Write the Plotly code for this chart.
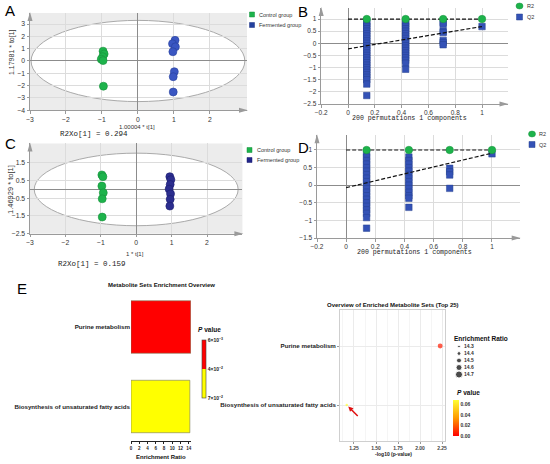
import plotly.graph_objects as go
import math

W, H = 550, 464

# ---------------- data ----------------
# A: OPLS-DA score plot, model 1
a_control_t = [-0.97, -0.94, -0.98, -1.02, -0.97, -0.96]
a_control_to = [0.80, 0.57, 0.35, 0.15, 0.03, -2.05]
a_ferm_t = [1.03, 0.96, 1.04, 0.97, 1.01, 0.98, 0.98]
a_ferm_to = [1.68, 1.40, 1.15, 0.75, -0.87, -1.28, -2.52]
a_ellipse = [2.97, 3.3]          # Hotelling T2 semi-axes (t, to)
a_x_title = "1.00004 * t[1]"
a_y_title = "1.17981 * to[1]"
a_r2xo = "R2Xo[1] = 0.294"

# C: OPLS-DA score plot, model 2
c_control_t = [-0.97, -0.94, -0.97, -0.93, -0.96, -0.96]
c_control_to = [0.82, 0.72, 0.19, -0.19, -0.53, -1.56]
c_ferm_t = [0.95, 0.98, 0.96, 0.93, 0.97, 0.96, 0.95]
c_ferm_to = [0.72, 0.55, 0.28, 0.02, -0.25, -0.56, -0.94]
c_ellipse = [2.88, 2.05]
c_x_title = "1 * t[1]"
c_y_title = "1.46929 * to[1]"
c_r2xo = "R2Xo[1] = 0.159"

# B / D: permutation tests (200 permutations)
perm_x = [0.14, 0.43, 0.71, 1.0]
r2_values = [1.0, 1.0, 1.0, 1.0]
line_x = [0.0, 1.0]
b_r2_line = [1.0, 1.0]
b_q2_line = [-0.23, 0.69]
b_q2_p1 = [0.88, 0.80, 0.70, 0.60, 0.50, 0.40, 0.30, 0.20, 0.10, 0.00, -0.10, -0.20,
           -0.30, -0.40, -0.50, -0.60, -0.70, -0.80, -0.90, -1.00, -1.10, -1.20,
           -1.30, -1.40, -1.50, -1.68, -2.15]
b_q2_p2 = [0.88, 0.80, 0.70, 0.60, 0.50, 0.40, 0.30, 0.20, 0.10, 0.00, -0.10, -0.20,
           -0.30, -0.40, -0.50, -0.60, -0.70, -0.82, -1.07]
b_q2_p3 = [0.86, 0.78, 0.50, 0.44, 0.12, 0.03, -0.06]
b_q2_p4 = [0.69]
d_r2_line = [1.0, 1.0]
d_q2_line = [-0.07, 0.91]
d_q2_p1 = [0.90, 0.80, 0.70, 0.60, 0.50, 0.40, 0.30, 0.20, 0.10, 0.00, -0.10, -0.20,
           -0.30, -0.40, -0.50, -0.60, -0.70, -0.80, -0.92, -1.22]
d_q2_p2 = [0.80, 0.70, 0.60, 0.50, 0.40, 0.30, 0.20, 0.10, 0.00, -0.10, -0.20,
           -0.30, -0.37, -0.63]
d_q2_p3 = [0.48, 0.38, 0.29, -0.09]
d_q2_p4 = [0.89]
perm_caption = "200 permutations 1 components"

# E: metabolite set enrichment
e_sets = ["Purine metabolism", "Biosynthesis of unsaturated fatty acids"]
e_ratio = [14.5, 14.28]
e_p = [0.0059, 0.068]
e_left_p_labels = ["6×10<sup>−3</sup>", "4×10<sup>−2</sup>", "7×10<sup>−2</sup>"]
e_right_p_ticks = [0.00, 0.02, 0.04, 0.06]
e_size_breaks = [14.3, 14.4, 14.5, 14.6, 14.7]
e_ratio_ticks = [0, 2, 4, 6, 8, 10, 12, 14]
e_logp_ticks = [1.25, 1.50, 1.75, 2.00, 2.25]

# ---------------- helpers ----------------
def dx(a, b):
    return [a / W, b / W]

def dy(top, bottom):
    return [1 - bottom / H, 1 - top / H]

def px(x):
    return x / W

def py(y):
    return 1 - y / H

def bubble(r):
    return 2.7 + (r - 14.3) * 11.0

GREEN = "#1db34b"
BLUE_A = "#3a56c2"
NAVY_C = "#2c2e8f"
Q2BLUE = "#3452b6"
SANS = "Liberation Sans, Arial, sans-serif"
MONO = "Liberation Mono, DejaVu Sans Mono, monospace"

fig = go.Figure()

# ---- A ----
fig.add_trace(go.Scatter(x=a_control_t, y=a_control_to, mode="markers", xaxis="x", yaxis="y",
                         marker=dict(size=8, color=GREEN, line=dict(width=0.6, color="#17903c")),
                         showlegend=False))
fig.add_trace(go.Scatter(x=a_ferm_t, y=a_ferm_to, mode="markers", xaxis="x", yaxis="y",
                         marker=dict(size=8, color=BLUE_A, line=dict(width=0.6, color="#27409c")),
                         showlegend=False))

# ---- B / D ----
def perm_traces(cols, q2_line, r2_line, xa, ya):
    qx, qy = [], []
    for xv, col in zip(perm_x, cols):
        qx += [xv] * len(col)
        qy += col
    fig.add_trace(go.Scatter(x=qx, y=qy, mode="markers", xaxis=xa, yaxis=ya,
                             marker=dict(symbol="square", size=6.5, color=Q2BLUE,
                                         line=dict(width=0.5, color="#24408f")),
                             showlegend=False))
    for ly in (r2_line, q2_line):
        fig.add_trace(go.Scatter(x=line_x, y=ly, mode="lines", xaxis=xa, yaxis=ya,
                                 line=dict(color="#111111", width=1.2, dash="4px,2px"),
                                 showlegend=False))
    fig.add_trace(go.Scatter(x=perm_x, y=r2_values, mode="markers", xaxis=xa, yaxis=ya,
                             marker=dict(size=7.5, color=GREEN, line=dict(width=0.5, color="#17903c")),
                             showlegend=False))

perm_traces([b_q2_p1, b_q2_p2, b_q2_p3, b_q2_p4], b_q2_line, b_r2_line, "x2", "y2")

# ---- C ----
fig.add_trace(go.Scatter(x=c_control_t, y=c_control_to, mode="markers", xaxis="x3", yaxis="y3",
                         marker=dict(size=8, color=GREEN, line=dict(width=0.6, color="#17903c")),
                         showlegend=False))
fig.add_trace(go.Scatter(x=c_ferm_t, y=c_ferm_to, mode="markers", xaxis="x3", yaxis="y3",
                         marker=dict(size=8, color=NAVY_C, line=dict(width=0.6, color="#1d1f70")),
                         showlegend=False))

perm_traces([d_q2_p1, d_q2_p2, d_q2_p3, d_q2_p4], d_q2_line, d_r2_line, "x4", "y4")

# ---- E left: bar chart ----
e_neglog = [-math.log10(p) for p in e_p]
lo, hi = min(e_neglog), max(e_neglog)
fig.add_trace(go.Bar(
    y=e_sets, x=e_ratio, orientation="h", width=0.66, xaxis="x5", yaxis="y5",
    marker=dict(color=e_neglog, cmin=lo, cmax=hi,
                colorscale=[[0, "#ffff00"], [0.5, "#ffff00"], [0.5, "#ff0000"], [1, "#ff0000"]],
                line=dict(width=0.6, color="#777755"),
                showscale=True,
                colorbar=dict(x=px(202), xanchor="left", y=py(369), yanchor="middle",
                              len=58, lenmode="pixels", thickness=4, thicknessmode="pixels",
                              outlinewidth=0.6, outlinecolor="#444", xpad=0, ypad=0,
                              tickvals=[hi, (hi + lo) / 2, lo], ticktext=e_left_p_labels,
                              ticks="", tickfont=dict(family=SANS, size=5, color="#222", weight="bold"))),
    showlegend=False))

# ---- E right: dot plot ----
fig.add_trace(go.Scatter(
    x=e_neglog, y=e_sets, mode="markers", xaxis="x6", yaxis="y6",
    marker=dict(size=[bubble(r) for r in e_ratio], color=e_p, cmin=0, cmax=max(e_p),
                colorscale=[[0, "#ff0000"], [0.5, "#ff9a00"], [1, "#ffff33"]],
                line=dict(width=0),
                showscale=True,
                colorbar=dict(x=px(453), xanchor="left", y=py(418), yanchor="middle",
                              len=36, lenmode="pixels", thickness=6, thicknessmode="pixels",
                              outlinewidth=0, xpad=0, ypad=0,
                              tickvals=e_right_p_ticks, tickformat=".2f", ticks="",
                              tickfont=dict(family=SANS, size=5, color="#333", weight="bold"))),
    showlegend=False))

# size legend (helper axes)
fig.add_trace(go.Scatter(x=[0] * len(e_size_breaks), y=e_size_breaks, mode="markers",
                         xaxis="x7", yaxis="y7", hoverinfo="skip",
                         marker=dict(size=[bubble(r) for r in e_size_breaks], color="black"),
                         showlegend=False))
fig.add_trace(go.Scatter(x=[0.5] * len(e_size_breaks), y=e_size_breaks, mode="text",
                         text=[f"{b:.1f}" for b in e_size_breaks], textposition="middle right",
                         textfont=dict(family=SANS, size=5, color="#333", weight="bold"),
                         xaxis="x7", yaxis="y7", hoverinfo="skip", showlegend=False))

# ---------------- axes ----------------
def sim(size=7):
    return dict(showgrid=True, gridcolor="#dcdcdc", gridwidth=0.8, zeroline=True,
                zerolinecolor="#8c8c8c", zerolinewidth=1, showline=True, linecolor="#9a9a9a",
                linewidth=1, ticks="outside", ticklen=2.5, tickcolor="#9a9a9a",
                tickfont=dict(family=SANS, size=size, color="#333"))

layout = dict(
    width=W, height=H, margin=dict(l=0, r=0, t=0, b=0, autoexpand=False),
    paper_bgcolor="white", plot_bgcolor="rgba(0,0,0,0)", showlegend=False,
    xaxis=dict(domain=dx(30, 247), range=[-3, 3.03], tickvals=[-3, -2, -1, 0, 1, 2], anchor="y", **sim(6.8)),
    yaxis=dict(domain=dy(13, 110.2), range=[-4, 3.9], tickvals=[-4, -3, -2, -1, 0, 1, 2, 3], anchor="x", **sim(6.8)),
    xaxis2=dict(domain=dx(321.2, 507.5), range=[-0.2, 1.19], tickvals=[-0.2, 0, 0.2, 0.4, 0.6, 0.8, 1],
                anchor="y2", **sim(6.5)),
    yaxis2=dict(domain=dy(8.1, 104), range=[-2.5, 1.45], tickvals=[-2.5, -2, -1.5, -1, -0.5, 0, 0.5, 1],
                anchor="x2", **sim(6.5)),
    xaxis3=dict(domain=dx(30, 242.4), range=[-3, 3], tickvals=[-3, -2, -1, 0, 1, 2], anchor="y3", **sim(6.8)),
    yaxis3=dict(domain=dy(143.4, 233.7), range=[-2.5, 2.6], tickvals=[-2.5, -1.5, -0.5, 0.5, 1.5],
                anchor="x3", **sim(6.8)),
    xaxis4=dict(domain=dx(317, 519.7), range=[-0.2, 1.19], tickvals=[-0.2, 0, 0.2, 0.4, 0.6, 0.8, 1],
                anchor="y4", **sim(6.5)),
    yaxis4=dict(domain=dy(135.2, 238), range=[-1.5, 1.42], tickvals=[-1.5, -1, -0.5, 0, 0.5, 1],
                anchor="x4", **sim(6.5)),
    xaxis5=dict(domain=dx(131, 191), range=[0, 14.56], tickvals=e_ratio_ticks, anchor="y5",
                showgrid=False, zeroline=False, showline=True, linecolor="#222", linewidth=0.8,
                ticks="outside", ticklen=2.5, tickcolor="#222", tickwidth=0.7,
                tickfont=dict(family=SANS, size=4.5, color="#222", weight="bold")),
    yaxis5=dict(domain=dy(291, 441), range=[-0.434, 1.453], type="category",
                categoryorder="array", categoryarray=list(reversed(e_sets)), anchor="x5",
                showgrid=False, zeroline=False, showline=False, ticks="",
                tickfont=dict(family=SANS, size=6.2, color="#222", weight="bold")),
    xaxis6=dict(domain=dx(340, 445), range=[1.091, 2.284], tickvals=e_logp_ticks, tickformat=".2f",
                anchor="y6", showgrid=True, gridcolor="#ebebeb", gridwidth=0.7, zeroline=False,
                minor=dict(dtick=0.125, tick0=1.0, showgrid=True, gridcolor="#f5f5f5", gridwidth=0.5),
                showline=True, mirror=True, linecolor="#cfcfcf", linewidth=0.8,
                ticks="outside", ticklen=2, tickcolor="#999",
                tickfont=dict(family=SANS, size=5, color="#444", weight="bold")),
    yaxis6=dict(domain=dy(310, 441), range=[-0.61, 1.61], type="category",
                categoryorder="array", categoryarray=list(reversed(e_sets)), anchor="x6",
                showgrid=True, gridcolor="#ebebeb", gridwidth=0.7, zeroline=False,
                showline=True, mirror=True, linecolor="#cfcfcf", linewidth=0.8,
                ticks="outside", ticklen=2, tickcolor="#999",
                tickfont=dict(family=SANS, size=6.2, color="#222", weight="bold")),
    xaxis7=dict(domain=dx(455, 485), range=[-0.4, 2.6], visible=False, anchor="y7"),
    yaxis7=dict(domain=dy(343, 378), range=[14.75, 14.25], visible=False, anchor="x7"),
)

# ---------------- shapes ----------------
shapes = []
for xa, ya, ell in (("x", "y", a_ellipse), ("x3", "y3", c_ellipse)):
    shapes.append(dict(type="rect", xref=f"{xa} domain", yref=f"{ya} domain", x0=0, x1=1, y0=0, y1=1,
                       fillcolor="#ececec", line=dict(width=0), layer="below"))
    shapes.append(dict(type="circle", xref=xa, yref=ya, x0=-ell[0], x1=ell[0], y0=-ell[1], y1=ell[1],
                       fillcolor="white", line=dict(color="#aaaaaa", width=1), layer="below"))

def key(cx, cy, w, h, color, kind, edge):
    shapes.append(dict(type=kind, xref="paper", yref="paper",
                       x0=px(cx - w / 2), x1=px(cx + w / 2), y0=py(cy + h / 2), y1=py(cy - h / 2),
                       fillcolor=color, line=dict(color=edge, width=0.5)))

key(252, 14.5, 5, 5, GREEN, "rect", "#17903c")
key(252, 25, 5, 5, "#23409e", "rect", "#1a3080")
key(249.5, 150, 5, 5, GREEN, "rect", "#17903c")
key(249.5, 160, 5, 5, "#22268a", "rect", "#1a1d70")
key(519.5, 6, 7, 6, GREEN, "circle", "#17903c")
key(519.5, 17, 6, 6, Q2BLUE, "rect", "#24408f")
key(532, 134, 7, 6, GREEN, "circle", "#17903c")
key(532, 144.5, 6, 6, Q2BLUE, "rect", "#24408f")

# axis arrowheads (fixed pixel size, anchored to axis ends)
for xa, ya in (("x", "y"), ("x2", "y2"), ("x3", "y3"), ("x4", "y4")):
    shapes.append(dict(type="path", xref=f"{xa} domain", yref=f"{ya} domain",
                       xsizemode="pixel", ysizemode="pixel", xanchor=1, yanchor=0,
                       path="M -8,2.5 L 1,0 L -8,-2.5 Z", fillcolor="#9a9a9a", line=dict(width=0)))
    shapes.append(dict(type="path", xref=f"{xa} domain", yref=f"{ya} domain",
                       xsizemode="pixel", ysizemode="pixel", xanchor=0, yanchor=1,
                       path="M -2.5,-8 L 0,1 L 2.5,-8 Z", fillcolor="#9a9a9a", line=dict(width=0)))

# red arrow pointing at the small dot (panel E right)
e_bios_x = -math.log10(e_p[1])
shapes.append(dict(type="path", xref="x6", yref="y6", xsizemode="pixel", ysizemode="pixel",
                   xanchor=e_bios_x, yanchor=0, path="M 11,-11 L 4.5,-4.5",
                   line=dict(color="#e01010", width=1.5)))
shapes.append(dict(type="path", xref="x6", yref="y6", xsizemode="pixel", ysizemode="pixel",
                   xanchor=e_bios_x, yanchor=0, path="M 1.5,-1.5 L 6.8,-3.3 L 3.3,-6.8 Z",
                   fillcolor="#e01010", line=dict(width=0)))

# ---------------- annotations ----------------
ann = []

def txt(x, y, text, size, family=SANS, color="#333", xanchor="center", angle=0):
    ann.append(dict(x=px(x), y=py(y), xref="paper", yref="paper", text=text, showarrow=False,
                    xanchor=xanchor, yanchor="middle", textangle=angle,
                    font=dict(family=family, size=size, color=color)))

# panel letters
for L, x, y in (("A", 10, 11), ("B", 303, 12), ("C", 10, 144), ("D", 303, 147), ("E", 22, 288)):
    txt(x, y, L, 15, color="black")

# score plots captions
txt(137, 126.5, a_x_title, 6)
txt(94, 133.5, a_r2xo, 7.5, family=MONO, color="#222")
txt(12, 52, a_y_title, 7, angle=-90)
txt(135, 254, c_x_title, 6)
txt(92, 263.5, c_r2xo, 7.5, family=MONO, color="#222")
txt(10, 190, c_y_title, 7.5, angle=-90)
txt(409, 118.5, perm_caption, 6.6, family=MONO, color="#222")
txt(414, 253, perm_caption, 6.6, family=MONO, color="#222")

# legends
txt(257, 14.5, "Control group", 5.5, xanchor="left")
txt(257, 25, "Fermented group", 5.5, xanchor="left")
txt(254.5, 150, "Control group", 5.5, xanchor="left")
txt(254.5, 160, "Fermented group", 5.5, xanchor="left")
txt(524.5, 6, "R2", 5.5, xanchor="left")
txt(524.5, 17, "Q2", 5.5, xanchor="left")
txt(537, 134, "R2", 5.5, xanchor="left")
txt(537, 144.5, "Q2", 5.5, xanchor="left")

# E texts
txt(161, 285, "<b>Metabolite Sets Enrichment Overview</b>", 6, color="#111")
txt(161, 457, "<b>Enrichment Ratio</b>", 6, color="#111")
txt(196, 329, "<b><i>P</i> value</b>", 6.5, color="#111", xanchor="left")
txt(393, 305, "<b>Overview of Enriched Metabolite Sets (Top 25)</b>", 6, color="#111")
txt(393, 454, "<b>-log10 (p-value)</b>", 5, color="#222")
txt(452, 338, "<b>Enrichment Ratio</b>", 6.5, color="#111", xanchor="left")
txt(455, 392, "<b><i>P</i> value</b>", 6.5, color="#111", xanchor="left")

layout["shapes"] = shapes
layout["annotations"] = ann
fig.update_layout(**layout)

# remove the browser's default 8px body margin so the 550x464 figure fills the window
fig.write_html("out.html", config={"displayModeBar": False},
               post_script="document.body.style.margin='0';document.body.style.overflow='hidden';")
